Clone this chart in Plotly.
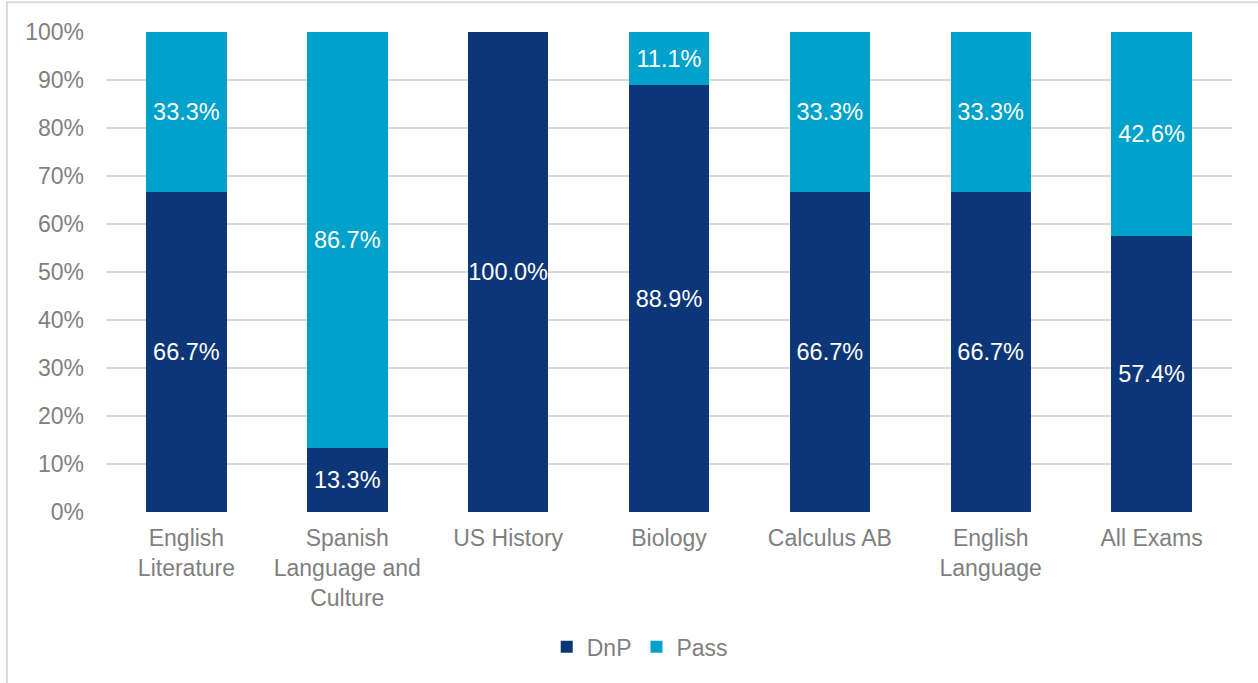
import plotly.graph_objects as go

categories = ["English<br>Literature", "Spanish<br>Language and<br>Culture", "US History",
              "Biology", "Calculus AB", "English<br>Language", "All Exams"]
dnp = [66.7, 13.3, 100.0, 88.9, 66.7, 66.7, 57.4]
passed = [33.3, 86.7, 0.0, 11.1, 33.3, 33.3, 42.6]
tick_vals = [0, 10, 20, 30, 40, 50, 60, 70, 80, 90, 100]
tick_text = [f"{v}%" for v in tick_vals]

DARK = "#0C3678"
LIGHT = "#00A1CA"
FONT = "Liberation Sans, Arial, sans-serif"
GREY = "#7F7F7F"


def labels(vals):
    return [f"{v:.1f}%" if v > 0 else "" for v in vals]


fig = go.Figure()
for name, vals, color in [("DnP", dnp, DARK), ("Pass", passed, LIGHT)]:
    fig.add_trace(go.Bar(
        name=name, x=categories, y=vals, marker=dict(color=color, line=dict(width=0)),
        text=labels(vals), textposition="inside", insidetextanchor="middle",
        textangle=0, constraintext="none",
        textfont=dict(color="white", size=23.5, family=FONT),
        hoverinfo="skip",
    ))

fig.update_layout(
    barmode="stack", bargap=0.5,
    width=1258, height=683,
    margin=dict(l=106, r=26, t=32, b=171),
    paper_bgcolor="white", plot_bgcolor="white",
    font=dict(family=FONT, color=GREY, size=23),
    legend=dict(orientation="h", x=0.474, xanchor="center", y=-0.236, yanchor="top",
                font=dict(size=23, color=GREY), itemwidth=30, traceorder="normal"),
    xaxis=dict(showline=False, ticks="", ticklabelstandoff=10,
               tickfont=dict(size=23, color=GREY)),
    yaxis=dict(range=[0, 100], tickvals=tick_vals, ticktext=tick_text,
               showgrid=True, gridcolor="#D9D9D9", gridwidth=1.5, zeroline=False,
               ticks="", ticklen=0, ticklabelstandoff=21, tickfont=dict(size=23, color=GREY)),
    shapes=[dict(type="rect", xref="paper", yref="paper", x0=-0.088, x1=1.1, y0=-0.5, y1=1.062,
                 line=dict(color="#D9D9D9", width=2), fillcolor="rgba(0,0,0,0)", layer="below")],
)

fig.write_html("out.html")
